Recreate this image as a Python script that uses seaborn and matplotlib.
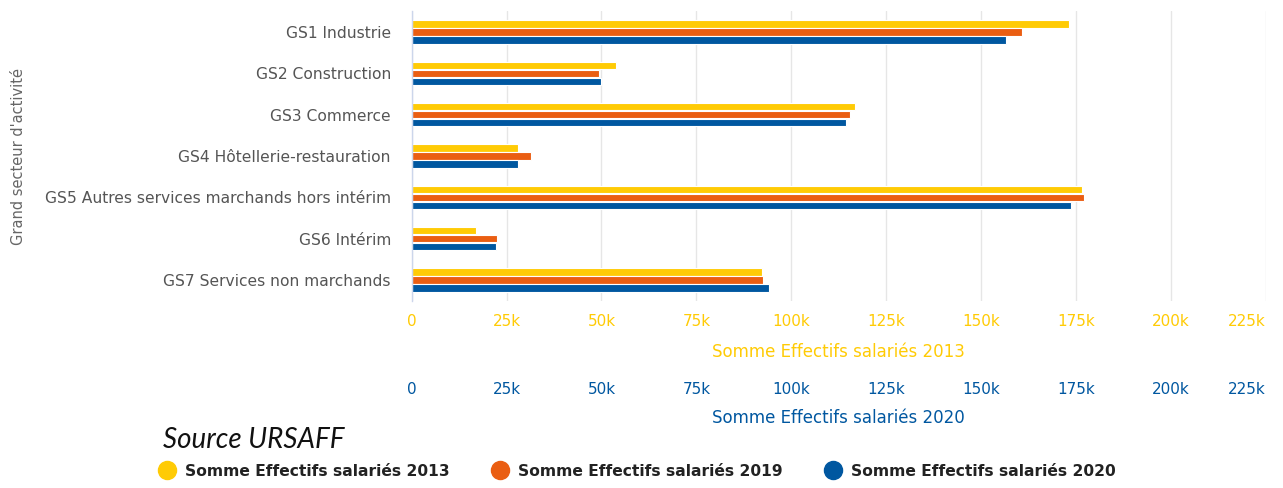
import matplotlib
matplotlib.use("Agg")
import matplotlib.pyplot as plt
from matplotlib.lines import Line2D
import seaborn as sns
import pandas as pd

# Data
secteurs = ["GS1 Industrie", "GS2 Construction", "GS3 Commerce",
            "GS4 Hôtellerie-restauration",
            "GS5 Autres services marchands hors intérim",
            "GS6 Intérim", "GS7 Services non marchands"]
series = ["Somme Effectifs salariés 2013", "Somme Effectifs salariés 2019",
          "Somme Effectifs salariés 2020"]
eff_2013 = [173300, 53800, 116700, 27900, 176700, 17000, 92200]
eff_2019 = [160700, 49400, 115500, 31500, 177100, 22500, 92600]
eff_2020 = [156500, 49900, 114300, 28000, 173700, 22200, 94200]
ticks = [0, 25000, 50000, 75000, 100000, 125000, 150000, 175000, 200000, 225000]
tick_labels = ["0", "25k", "50k", "75k", "100k", "125k", "150k", "175k", "200k", "225k"]

colors = ["#FFCB05", "#EA5E12", "#0057A0"]

df = pd.DataFrame({
    "secteur": secteurs * 3,
    "serie": [series[0]] * 7 + [series[1]] * 7 + [series[2]] * 7,
    "valeur": eff_2013 + eff_2019 + eff_2020,
})

sns.set_style("white")
plt.rcParams['font.family'] = ['DejaVu Sans']

fig = plt.figure(figsize=(12.83, 4.88), dpi=100)
ax = fig.add_axes([0.3209, 0.384, 0.6656, 0.5926])

sns.barplot(data=df, y="secteur", x="valeur", hue="serie", hue_order=series,
            palette=colors, saturation=1, orient="h", width=0.58, gap=0.1,
            edgecolor="white", linewidth=0.8, legend=False, ax=ax)

ax.set_xlim(0, 225000)
ax.set_ylim(6.5, -0.5)
ax.set_xticks(ticks)
ax.set_xticklabels(tick_labels)
ax.grid(axis="x", color="#e6e6e6", linewidth=1)
ax.set_axisbelow(True)
for s in ["top", "right", "bottom"]:
    ax.spines[s].set_visible(False)
ax.spines["left"].set_color("#ccd6eb")
ax.spines["left"].set_linewidth(1)

# category ticks between the bands
ax.set_yticks([i + 0.5 for i in range(-1, 7)], minor=True)
ax.tick_params(axis="y", which="minor", length=8, color="#ccd6eb", width=1)
ax.tick_params(axis="y", which="major", length=0, pad=15, labelsize=11.2, labelcolor="#555555")
ax.tick_params(axis="x", length=0, pad=10, labelsize=11, labelcolor="#FFCB05")
ax.set_xlabel("")
ax.set_ylabel("Grand secteur d'activité", fontsize=10.5, color="#666666")
ax.yaxis.set_label_coords(-0.452, 0.5)
ax.get_xticklabels()[-1].set_horizontalalignment("right")

# second axis for 2020
sec = ax.secondary_xaxis(-0.233)
sec.set_xticks(ticks)
sec.set_xticklabels(tick_labels)
sec.tick_params(axis="x", length=0, pad=10, labelsize=11, labelcolor="#0057A0")
sec.spines["bottom"].set_visible(False)
sec.get_xticklabels()[-1].set_horizontalalignment("right")

fig.text(838 / 1283, 1 - 352 / 488, "Somme Effectifs salariés 2013", color="#FFCB05",
         fontsize=12, ha="center", va="center")
fig.text(838 / 1283, 1 - 418 / 488, "Somme Effectifs salariés 2020", color="#0057A0",
         fontsize=12, ha="center", va="center")

fig.text(163 / 1283, 1 - 440 / 488, "Source URSAFF", style="italic", fontsize=20,
         color="#111111", va="center", family=["Lato", "DejaVu Sans"])

handles = [Line2D([0], [0], marker="o", linestyle="", markersize=13,
                  markerfacecolor=c, markeredgecolor=c) for c in colors]
fig.legend(handles, series, loc="center left", bbox_to_anchor=(137 / 1283, 1 - 471 / 488),
           ncol=3, frameon=False, handletextpad=0.2, columnspacing=2.2,
           prop={"size": 11.2, "weight": "bold"}, labelcolor="#222222")

fig.savefig("out.png", dpi=100)
